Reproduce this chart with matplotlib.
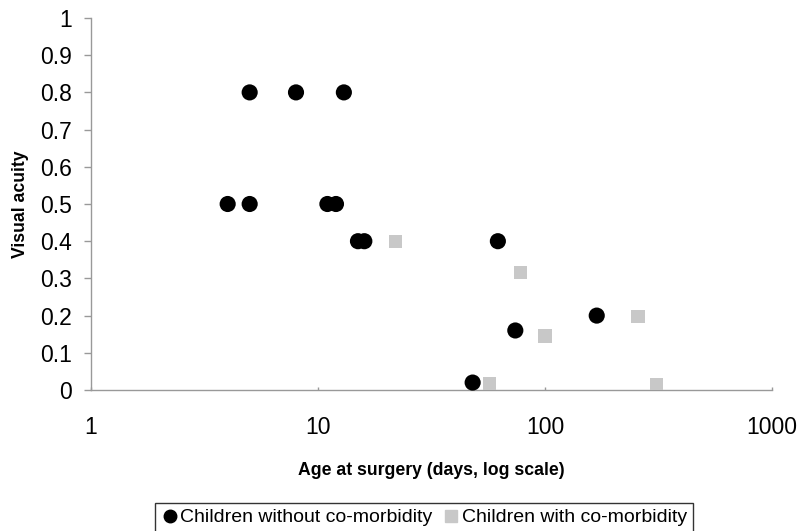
import matplotlib
matplotlib.use('Agg')
import matplotlib.pyplot as plt
from matplotlib.lines import Line2D

plt.rcParams['font.family'] = ['Liberation Sans', 'DejaVu Sans']

# Children without co-morbidity (age in days, visual acuity)
no_comorb_age = [5, 8, 13, 4, 5, 11, 12, 15, 16, 62, 74, 169, 48]
no_comorb_va = [0.8, 0.8, 0.8, 0.5, 0.5, 0.5, 0.5, 0.4, 0.4, 0.4, 0.16, 0.2, 0.02]

# Children with co-morbidity
comorb_age = [22, 78, 100, 257, 57, 310]
comorb_va = [0.4, 0.315, 0.145, 0.197, 0.018, 0.014]

x_ticks = [1, 10, 100, 1000]
x_tick_labels = ['1', '10', '100', '1000']
y_ticks = [0, 0.1, 0.2, 0.3, 0.4, 0.5, 0.6, 0.7, 0.8, 0.9, 1]
y_tick_labels = ['0', '0.1', '0.2', '0.3', '0.4', '0.5', '0.6', '0.7', '0.8', '0.9', '1']

fig = plt.figure(figsize=(8.04, 5.31), dpi=100)
ax = fig.add_axes([91 / 804, 1 - 390 / 531, (772 - 91) / 804, (390 - 18) / 531])

ax.scatter(no_comorb_age, no_comorb_va, s=135, marker='o', color='black',
           edgecolors='none', clip_on=False, zorder=3)
ax.scatter(comorb_age, comorb_va, s=90, marker='s', color='#c8c8c8',
           edgecolors='none', zorder=4)

ax.set_xscale('log')
ax.set_xlim(1, 1000)
ax.set_ylim(0, 1)
ax.set_xticks(x_ticks)
ax.set_xticklabels(x_tick_labels)
ax.minorticks_off()
ax.set_yticks(y_ticks)
ax.set_yticklabels(y_tick_labels)

for side in ['top', 'right']:
    ax.spines[side].set_visible(False)
for side in ['left', 'bottom']:
    ax.spines[side].set_color('#999999')
    ax.spines[side].set_linewidth(1)

ax.tick_params(axis='y', direction='out', length=5, width=1, color='#999999',
               pad=9, labelsize=16.5)
ax.tick_params(axis='x', direction='in', length=2, width=1, color='#999999',
               pad=19, labelsize=16.5)

ax.set_xlabel('Age at surgery (days, log scale)', fontsize=12.7, fontweight='bold',
              labelpad=16)
ax.set_ylabel('Visual acuity', fontsize=12.7, fontweight='bold')
ax.yaxis.set_label_coords((29 - 91) / 681, 0.5)

handles = [
    Line2D([], [], marker='o', color='black', linestyle='none', markersize=9),
    Line2D([], [], marker='s', color='#c8c8c8', linestyle='none', markersize=8.5),
]
leg = fig.legend(handles, ['Children without co-morbidity', 'Children with co-morbidity'],
                 loc='upper left', bbox_to_anchor=(155 / 804, 1 - 503 / 531), ncol=2,
                 fontsize=14, frameon=True, fancybox=False, borderpad=0.3,
                 handletextpad=0.1, columnspacing=0.5, handlelength=0.9,
                 borderaxespad=0)
leg.get_frame().set_edgecolor('black')
leg.get_frame().set_linewidth(1)

fig.savefig('out.png', dpi=100)
